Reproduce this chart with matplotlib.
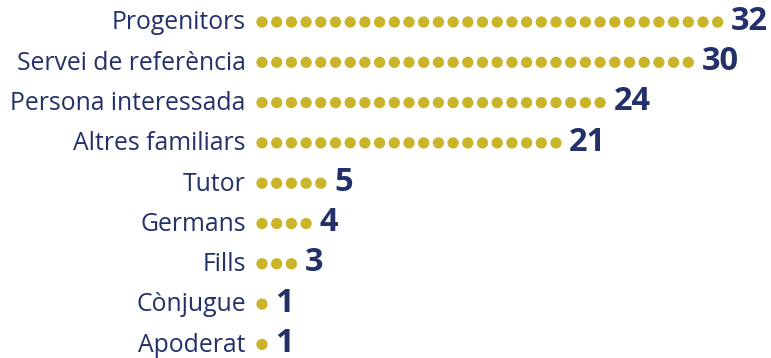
import matplotlib
matplotlib.use("Agg")
import matplotlib.pyplot as plt

categories = ["Progenitors", "Servei de referència", "Persona interessada",
              "Altres familiars", "Tutor", "Germans", "Fills", "Cònjugue", "Apoderat"]
values = [32, 30, 24, 21, 5, 4, 3, 1, 1]

DOT = "#c9b42a"
NAVY = "#23306a"

fig = plt.figure(figsize=(7.71, 3.58), dpi=100)
ax = fig.add_axes([0, 0, 1, 1])

step = 14.7
x0 = 262
row0, row_step = 22, 40.3
ax.set_xlim(-x0 / step, (771 - x0) / step)
ax.set_ylim((358 - row0) / row_step, -row0 / row_step)
ax.axis("off")

for k, (cat, v) in enumerate(zip(categories, values)):
    xs = list(range(v))
    ax.scatter(xs, [k] * v, s=66, color=DOT, edgecolors="none")
    ax.text(-1.1, k + 0.02, cat, ha="right", va="center", fontsize=17.8,
            family="Open Sans", color=NAVY)
    ax.text(v - 1 + 0.9, k - 0.02, str(v), ha="left", va="center", fontsize=23.5,
            family="Open Sans", fontweight="bold", color=NAVY)

fig.savefig("out.png", dpi=100)
